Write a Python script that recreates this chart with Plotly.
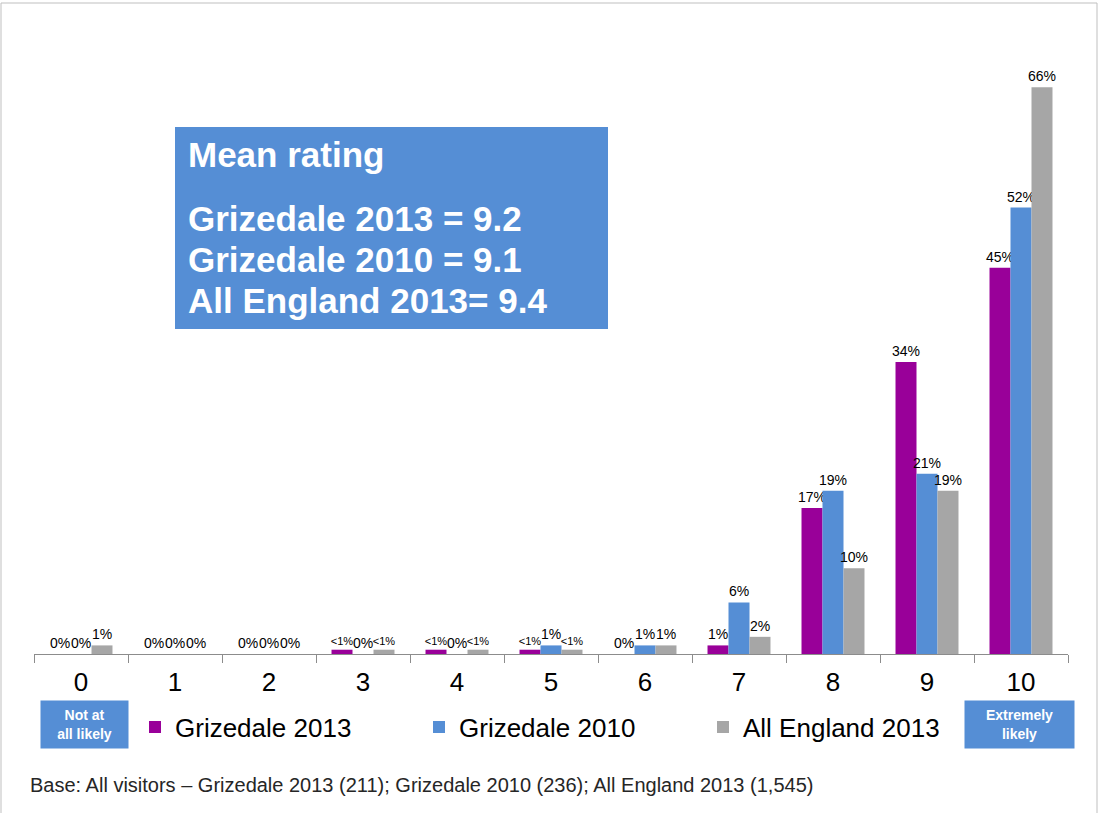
import plotly.graph_objects as go

# Likelihood-to-recommend scores (0 = not at all likely, 10 = extremely likely)
categories = ["0", "1", "2", "3", "4", "5", "6", "7", "8", "9", "10"]

# Share of respondents (%); "<1%" responses plotted at 0.5
grizedale_2013 = [0, 0, 0, 0.5, 0.5, 0.5, 0, 1, 17, 34, 45]
grizedale_2010 = [0, 0, 0, 0, 0, 1, 1, 6, 19, 21, 52]
all_england_2013 = [1, 0, 0, 0.5, 0.5, 0.5, 1, 2, 10, 19, 66]

def pct_label(v):
    return "<1%" if 0 < v < 1 else f"{v:g}%"

def label_size(v):
    # the "<1%" tags are set a little smaller so neighbouring tags don't collide
    return 11 if 0 < v < 1 else 14

series = [
    ("Grizedale 2013", grizedale_2013, "#990099"),
    ("Grizedale 2010", grizedale_2010, "#558ED5"),
    ("All England 2013", all_england_2013, "#A6A6A6"),
]

mean_title = "Mean rating"
mean_lines = ["Grizedale 2013 = 9.2", "Grizedale 2010 = 9.1", "All England 2013= 9.4"]
footnote = "Base: All visitors \u2013 Grizedale 2013 (211); Grizedale 2010 (236); All England 2013 (1,545)"

FONT = "Arial, Liberation Sans, Helvetica, sans-serif"

fig = go.Figure()
for name, vals, color in series:
    fig.add_trace(go.Bar(
        x=categories, y=vals, name=name,
        marker=dict(color=color, line=dict(width=0)),
        text=[pct_label(v) for v in vals],
        textposition="outside",
        constraintext="none",
        textfont=dict(family=FONT, size=[label_size(v) for v in vals], color="#000000"),
        cliponaxis=False,
    ))

W, H = 1098, 813
L, R, T, B = 34, 30, 53, 159
pw, ph = W - L - R, H - T - B

def px(x):
    return (x - L) / pw

def py(y):
    return (H - B - y) / ph

shapes = [
    # outer frame
    dict(type="rect", xref="paper", yref="paper",
         x0=px(1), x1=px(1097), y0=py(900), y1=py(3),
         line=dict(color="#BFBFBF", width=1), fillcolor="rgba(0,0,0,0)", layer="below"),
    # mean rating panel
    dict(type="rect", xref="paper", yref="paper",
         x0=px(175), x1=px(608), y0=py(329), y1=py(127),
         line=dict(width=0), fillcolor="#558ED5"),
]

annotations = [
    dict(xref="paper", yref="paper", x=px(186), y=py(155), xanchor="left", yanchor="middle",
         text="<b>%s</b>" % mean_title, showarrow=False,
         font=dict(family=FONT, size=35, color="white")),
]
for i, line in enumerate(mean_lines):
    annotations.append(dict(
        xref="paper", yref="paper", x=px(186), y=py(218 + 41 * i),
        xanchor="left", yanchor="middle", text="<b>%s</b>" % line, showarrow=False,
        font=dict(family=FONT, size=35, color="white")))

# scale end markers under the axis
for cx, txt in [(84.5, "Not at<br>all likely"), (1019.5, "Extremely<br>likely")]:
    annotations.append(dict(
        xref="paper", yref="paper", x=px(cx), y=py(724.5), xanchor="center", yanchor="middle",
        text="<b>%s</b>" % txt, showarrow=False, align="center",
        width=87 if cx < 500 else 109, height=47, bgcolor="#558ED5", borderpad=0,
        font=dict(family=FONT, size=14, color="white")))

annotations.append(dict(
    xref="paper", yref="paper", x=px(28), y=py(785), xanchor="left", yanchor="middle",
    text=footnote, showarrow=False, font=dict(family=FONT, size=20, color="#262626")))

fig.update_layout(
    width=W, height=H,
    margin=dict(l=L, r=R, t=T, b=B, pad=0),
    paper_bgcolor="white", plot_bgcolor="white",
    barmode="group", bargap=0.33, bargroupgap=0,
    font=dict(family=FONT, color="#000000"),
    xaxis=dict(type="category", showline=True, linecolor="#8C8C8C", linewidth=1,
               ticks="outside", tickson="boundaries", ticklen=8, tickcolor="#8C8C8C",
               ticklabelstandoff=5,
               tickfont=dict(family=FONT, size=26, color="#000000"), showgrid=False),
    yaxis=dict(range=[0, 70], visible=False, showgrid=False, zeroline=False),
    showlegend=True,
    legend=dict(orientation="h", x=px(135), y=py(727), xanchor="left", yanchor="middle",
                font=dict(family=FONT, size=26, color="#000000"),
                entrywidth=239, entrywidthmode="pixels", itemwidth=30,
                bgcolor="rgba(0,0,0,0)", traceorder="normal"),
    shapes=shapes, annotations=annotations,
)

fig.write_html("out.html")
